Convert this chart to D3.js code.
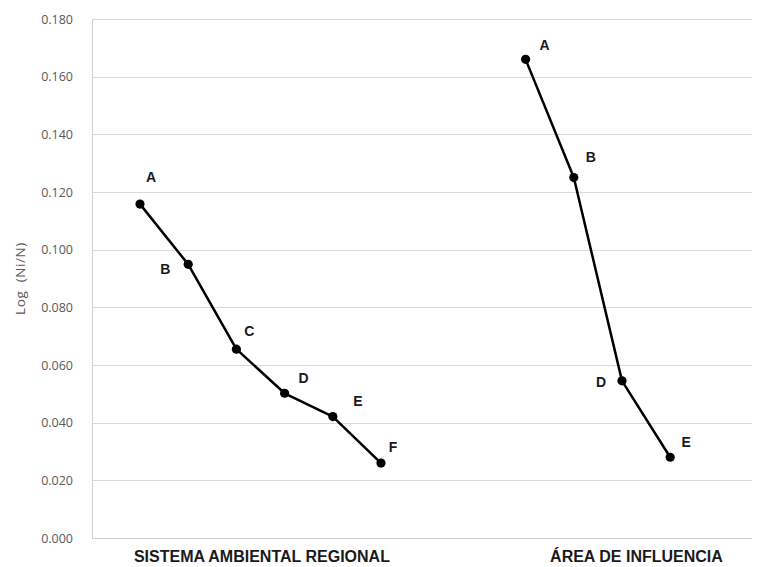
<!DOCTYPE html>
<html>
<head>
<meta charset="utf-8">
<script src="https://cdn.jsdelivr.net/npm/d3@7"></script>
<style>
  html, body { margin: 0; padding: 0; background: #fff; }
  svg { display: block; }
</style>
</head>
<body>
<svg id="chart" width="757" height="567"></svg>
<script>
// Series: Log (Ni/N) per stage, two study zones
const groupNames = ["SISTEMA AMBIENTAL REGIONAL", "ÁREA DE INFLUENCIA"];
const sarLabels = ["A", "B", "C", "D", "E", "F"];
const sarValues = [0.1158, 0.0949, 0.0655, 0.0502, 0.0421, 0.0260];
const aiLabels = ["A", "B", "D", "E"];
const aiValues = [0.1660, 0.1250, 0.0545, 0.0280];
const yTicks = [0, 0.02, 0.04, 0.06, 0.08, 0.10, 0.12, 0.14, 0.16, 0.18];
const yTitle = "Log  (Ni/N)";

// Layout: slot index of the first point of each group, and label nudges
const groupStart = [0, 8];
const groupLabelSlot = [2.53, 10.3];
const sarLabelOffsets = [[11, -27], [-23, 5], [13, -18], [19, -15], [25, -16], [12, -16]];
const aiLabelOffsets = [[19, -14], [17, -21], [-21, 1], [16, -15]];

const svg = d3.select("#chart");
const plot = { left: 92, right: 752, top: 19, bottom: 538 };

const y = d3.scaleLinear().domain([0, 0.18]).range([plot.bottom, plot.top]);
// slot 0 sits at x=140 with ~48.2px per slot
const slotW = 48.2;
const x = d3.scaleLinear()
  .domain([(plot.left - 140) / slotW, (plot.right - 140) / slotW])
  .range([plot.left, plot.right]);

// Gridlines + y axis labels
const yAxis = d3.axisLeft(y).tickValues(yTicks).tickFormat(d3.format(".3f"))
  .tickSize(-(plot.right - plot.left)).tickPadding(19);
const gy = svg.append("g").attr("transform", `translate(${plot.left},0)`).call(yAxis);
gy.select(".domain").remove();
gy.selectAll(".tick line").attr("stroke", "#d9d9d9").attr("stroke-width", 1)
  .attr("shape-rendering", "crispEdges");
gy.selectAll(".tick text")
  .attr("fill", "#595959")
  .style("font-family", "'Open Sans', 'Noto Sans', sans-serif")
  .style("font-size", "12.5px");

// Left axis line and baseline
svg.append("line")
  .attr("x1", plot.left).attr("x2", plot.left)
  .attr("y1", plot.top).attr("y2", plot.bottom)
  .attr("stroke", "#d0d0d0").attr("shape-rendering", "crispEdges");
svg.append("line")
  .attr("x1", plot.left).attr("x2", plot.right)
  .attr("y1", plot.bottom).attr("y2", plot.bottom)
  .attr("stroke", "#cfcfcf").attr("shape-rendering", "crispEdges");

// Y axis title
svg.append("text")
  .attr("transform", `translate(20,${(plot.top + plot.bottom) / 2}) rotate(-90)`)
  .attr("text-anchor", "middle").attr("dominant-baseline", "central")
  .attr("fill", "#595959")
  .style("font-family", "'Open Sans', 'Noto Sans', sans-serif")
  .style("font-size", "13.5px")
  .style("letter-spacing", "0.6px")
  .style("white-space", "pre")
  .text(yTitle);

const series = [
  { labels: sarLabels, values: sarValues, start: groupStart[0], offsets: sarLabelOffsets },
  { labels: aiLabels, values: aiValues, start: groupStart[1], offsets: aiLabelOffsets }
];

const line = d3.line().x(d => x(d.slot)).y(d => y(d.value));

series.forEach(s => {
  const pts = s.values.map((v, i) => ({ slot: s.start + i, value: v, label: s.labels[i], off: s.offsets[i] }));
  const g = svg.append("g");
  g.append("path").datum(pts).attr("d", line)
    .attr("fill", "none").attr("stroke", "#000").attr("stroke-width", 2.5)
    .attr("stroke-linejoin", "round");
  g.selectAll("circle").data(pts).join("circle")
    .attr("cx", d => x(d.slot)).attr("cy", d => y(d.value)).attr("r", 4.6)
    .attr("fill", "#000");
  g.selectAll("text").data(pts).join("text")
    .attr("x", d => x(d.slot) + d.off[0]).attr("y", d => y(d.value) + d.off[1])
    .attr("text-anchor", "middle").attr("dominant-baseline", "central")
    .attr("fill", "#1a1a1a")
    .style("font-family", "'Liberation Sans', Arial, sans-serif")
    .style("font-weight", "bold").style("font-size", "14px")
    .text(d => d.label);
});

// Group (category) labels under the plot
svg.selectAll("text.group").data(groupNames).join("text")
  .attr("class", "group")
  .attr("x", (d, i) => x(groupLabelSlot[i])).attr("y", 562)
  .attr("text-anchor", "middle")
  .attr("fill", "#1a1a1a")
  .style("font-family", "'Liberation Sans Narrow', 'Arial Narrow', 'Liberation Sans', sans-serif")
  .style("font-weight", "bold").style("font-size", "16px")
  .text(d => d);
</script>
</body>
</html>
